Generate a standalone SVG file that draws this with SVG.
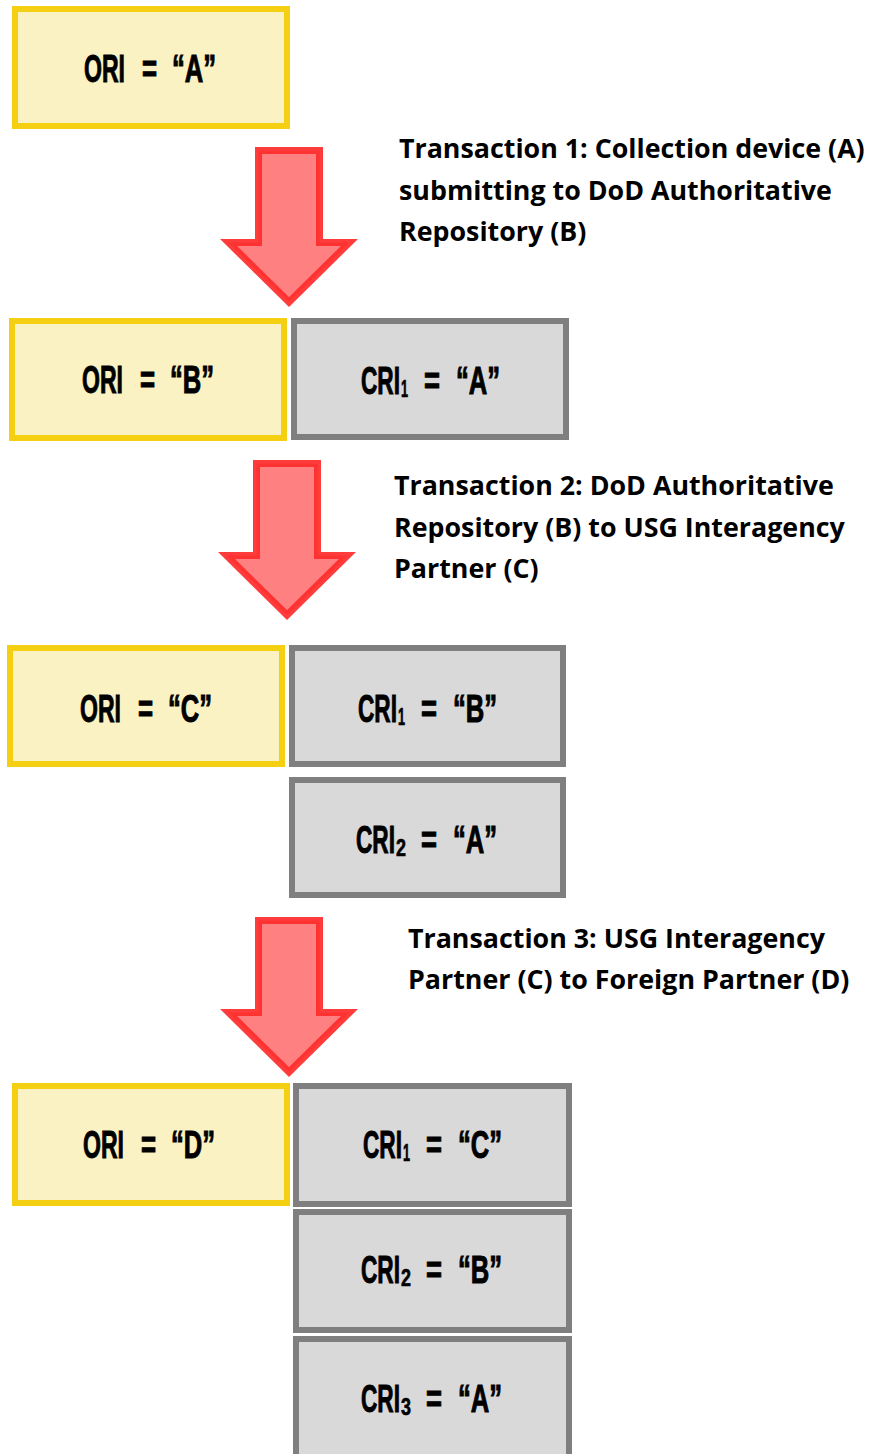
<svg xmlns="http://www.w3.org/2000/svg" width="871" height="1454" viewBox="0 0 871 1454">
<defs>
<style>
.ori{fill:#fbf2c4;stroke:#f5cf12;stroke-width:6}
.cri{fill:#d9d9d9;stroke:#7f7f7f;stroke-width:6}
.lbl{font-family:"Liberation Sans",Arial,sans-serif;font-weight:bold;font-size:38px;fill:#000;stroke:#000;stroke-width:1}
.sub{font-family:"Liberation Sans",Arial,sans-serif;font-weight:bold;font-size:23px;fill:#000;stroke:#000;stroke-width:0.6}
.tx{font-family:"Open Sans","Noto Sans",sans-serif;font-weight:bold;font-size:26.8px;fill:#000}
.arr{fill:#ff8080;stroke:#ff2b2b;stroke-width:7;stroke-linejoin:miter;stroke-opacity:0.92}
</style>
<path id="arrowShape" d="M38.5,3.5 H99.5 V95.5 H129.46 L69,155.1 L8.54,95.5 H38.5 Z"/>
</defs>
<rect width="871" height="1454" fill="#ffffff"/>

<g id="connectors">
<use href="#arrowShape" class="arr" transform="translate(220,147)"/>
<use href="#arrowShape" class="arr" transform="translate(218,460)"/>
<use href="#arrowShape" class="arr" transform="translate(220,917)"/>
</g>

<g id="t1">
<text class="tx" x="399" y="158">Transaction 1: Collection device (A)</text>
<text class="tx" x="399" y="199.5">submitting to DoD Authoritative</text>
<text class="tx" x="399" y="241">Repository (B)</text>
</g>
<g id="t2">
<text class="tx" x="394" y="495">Transaction 2: DoD Authoritative</text>
<text class="tx" x="394" y="537">Repository (B) to USG Interagency</text>
<text class="tx" x="394" y="578">Partner (C)</text>
</g>
<g id="t3">
<text class="tx" x="408" y="948">Transaction 3: USG Interagency</text>
<text class="tx" x="408" y="989">Partner (C) to Foreign Partner (D)</text>
</g>

<g id="ori-a">
<rect class="ori" x="15" y="9" width="272" height="117"/>
<g transform="translate(84,82)">
<text class="lbl" transform="scale(0.607,1)">ORI</text>
<text class="lbl" transform="translate(58,0) scale(0.68,1)">=</text>
<text class="lbl" transform="translate(88,0) scale(0.673,1)">“A”</text>
</g>
</g>

<g id="ori-b">
<rect class="ori" x="12" y="321" width="272" height="117"/>
<g transform="translate(82,393)">
<text class="lbl" transform="scale(0.607,1)">ORI</text>
<text class="lbl" transform="translate(58,0) scale(0.68,1)">=</text>
<text class="lbl" transform="translate(88,0) scale(0.673,1)">“B”</text>
</g>
</g>
<g id="cri1-a-r2">
<rect class="cri" x="294" y="321" width="272" height="116"/>
<g transform="translate(361,394)">
<text class="lbl" transform="scale(0.596,1)">CRI</text>
<text class="sub" transform="translate(40,3) scale(0.55,1)">1</text>
<text class="lbl" transform="translate(63,0) scale(0.72,1)">=</text>
<text class="lbl" transform="translate(95,0) scale(0.673,1)">“A”</text>
</g>
</g>

<g id="ori-c">
<rect class="ori" x="10" y="648" width="272" height="116"/>
<g transform="translate(80,722)">
<text class="lbl" transform="scale(0.607,1)">ORI</text>
<text class="lbl" transform="translate(58,0) scale(0.68,1)">=</text>
<text class="lbl" transform="translate(88,0) scale(0.673,1)">“C”</text>
</g>
</g>
<g id="cri1-b-r3">
<rect class="cri" x="292" y="648" width="271" height="116"/>
<g transform="translate(358,722)">
<text class="lbl" transform="scale(0.596,1)">CRI</text>
<text class="sub" transform="translate(40,3) scale(0.55,1)">1</text>
<text class="lbl" transform="translate(63,0) scale(0.72,1)">=</text>
<text class="lbl" transform="translate(95,0) scale(0.673,1)">“B”</text>
</g>
</g>
<g id="cri2-a-r3">
<rect class="cri" x="292" y="780" width="271" height="115"/>
<g transform="translate(356,853)">
<text class="lbl" transform="scale(0.596,1)">CRI</text>
<text class="sub" transform="translate(40,3) scale(0.78,1)">2</text>
<text class="lbl" transform="translate(65,0) scale(0.72,1)">=</text>
<text class="lbl" transform="translate(97,0) scale(0.673,1)">“A”</text>
</g>
</g>

<g id="ori-d">
<rect class="ori" x="15" y="1086" width="272" height="117"/>
<g transform="translate(83,1158)">
<text class="lbl" transform="scale(0.607,1)">ORI</text>
<text class="lbl" transform="translate(58,0) scale(0.68,1)">=</text>
<text class="lbl" transform="translate(88,0) scale(0.673,1)">“D”</text>
</g>
</g>
<g id="cri1-c-r4">
<rect class="cri" x="296" y="1086" width="273" height="118"/>
<g transform="translate(363,1158)">
<text class="lbl" transform="scale(0.596,1)">CRI</text>
<text class="sub" transform="translate(40,3) scale(0.55,1)">1</text>
<text class="lbl" transform="translate(63,0) scale(0.72,1)">=</text>
<text class="lbl" transform="translate(95,0) scale(0.673,1)">“C”</text>
</g>
</g>
<g id="cri2-b-r4">
<rect class="cri" x="296" y="1212" width="273" height="118"/>
<g transform="translate(361,1283)">
<text class="lbl" transform="scale(0.596,1)">CRI</text>
<text class="sub" transform="translate(40,3) scale(0.78,1)">2</text>
<text class="lbl" transform="translate(65,0) scale(0.72,1)">=</text>
<text class="lbl" transform="translate(97,0) scale(0.673,1)">“B”</text>
</g>
</g>
<g id="cri3-a-r4">
<rect class="cri" x="296" y="1339" width="273" height="130"/>
<g transform="translate(361,1412)">
<text class="lbl" transform="scale(0.596,1)">CRI</text>
<text class="sub" transform="translate(40,3) scale(0.78,1)">3</text>
<text class="lbl" transform="translate(65,0) scale(0.72,1)">=</text>
<text class="lbl" transform="translate(97,0) scale(0.673,1)">“A”</text>
</g>
</g>
</svg>
